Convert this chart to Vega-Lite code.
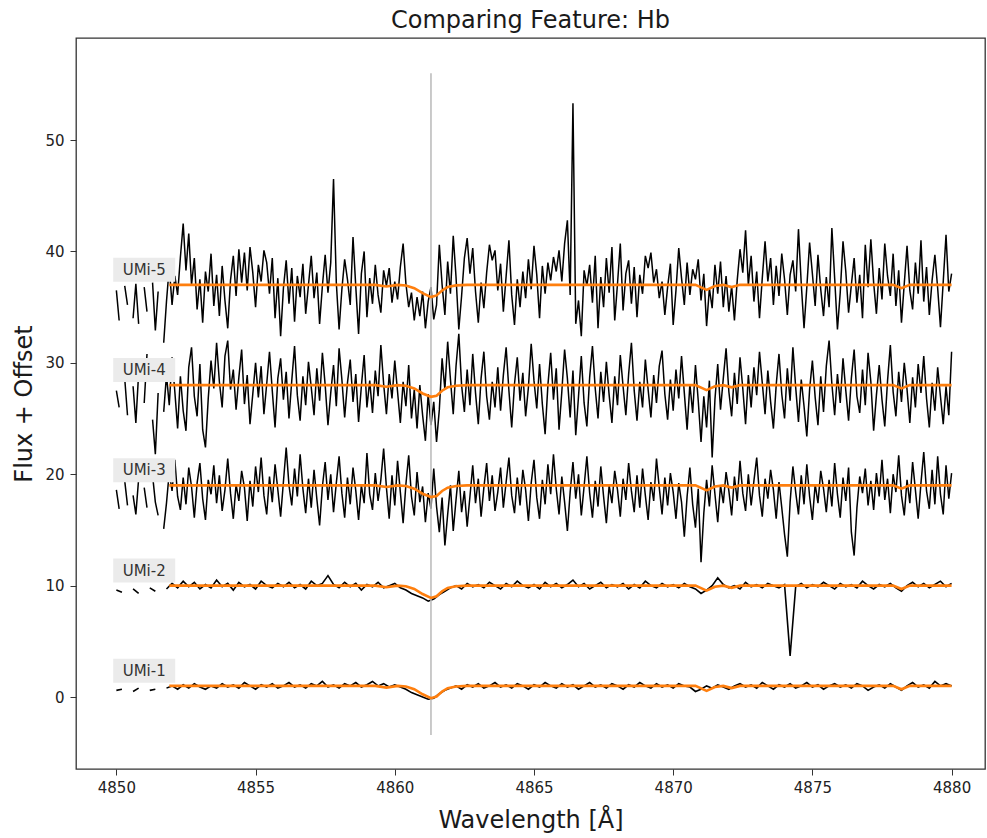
{
"$schema": "https://vega.github.io/schema/vega-lite/v6.json",
"width": 909, "height": 731,
"autosize": {"type": "none"},
"padding": {"left": 76, "top": 38, "right": 2, "bottom": 69},
"background": "white",
"title": {"text": "Comparing Feature: Hb", "fontSize": 24, "font": "DejaVu Sans", "fontWeight": "normal", "color": "#1a1a1a", "offset": 5, "anchor": "middle"},
"config": {
  "view": {"stroke": "#333333", "strokeWidth": 1.3},
  "axis": {"grid": false, "domain": false, "tickColor": "#333333", "labelColor": "#222222", "titleColor": "#1a1a1a", "labelFont": "DejaVu Sans", "titleFont": "DejaVu Sans", "labelFontSize": 15, "titleFontSize": 24, "titleFontWeight": "normal", "tickSize": 6}
},
"datasets": {
"noisy": [
{"w":4850.0,"s3":18.6,"s4":27.5,"s5":36.5},
{"w":4850.1,"s3":16.9,"s4":26.0,"s5":33.8},
{"w":4850.2,"s3":null,"s4":null,"s5":null},
{"w":4850.3,"s3":19.4,"s4":28.6,"s5":36.9},
{"w":4850.4,"s3":17.2,"s4":25.3,"s5":35.2},
{"w":4850.5,"s3":null,"s4":null,"s5":null},
{"w":4850.6,"s3":18.1,"s4":27.9,"s5":34.0},
{"w":4850.7,"s3":16.4,"s4":24.6,"s5":37.1},
{"w":4850.8,"s3":19.6,"s4":29.1,"s5":33.5},
{"w":4850.9,"s3":null,"s4":null,"s5":null},
{"w":4851.0,"s3":18.8,"s4":26.4,"s5":36.8},
{"w":4851.1,"s3":17.0,"s4":30.8,"s5":34.6},
{"w":4851.2,"s3":null,"s4":null,"s5":null},
{"w":4851.3,"s3":19.9,"s4":24.9,"s5":37.2},
{"w":4851.4,"s3":17.5,"s4":21.8,"s5":32.9},
{"w":4851.5,"s3":16.3,"s4":27.3,"s5":36.4},
{"w":4851.6,"s3":null,"s4":null,"s5":null},
{"w":4851.7,"s3":15.1,"s4":25.6,"s5":31.8},
{"w":4851.8,"s3":17.4,"s4":28.9,"s5":35.5},
{"w":4851.9,"s3":20.2,"s4":26.2,"s5":38.6},
{"w":4852.0,"s3":18.5,"s4":30.5,"s5":35.2},
{"w":4852.1,"s3":21.3,"s4":27.4,"s5":37.8},
{"w":4852.2,"s3":18.0,"s4":24.1,"s5":36.1},
{"w":4852.3,"s3":16.8,"s4":28.8,"s5":39.5},
{"w":4852.4,"s3":19.7,"s4":25.7,"s5":42.5},
{"w":4852.5,"s3":17.3,"s4":23.9,"s5":38.3},
{"w":4852.6,"s3":20.6,"s4":29.6,"s5":41.6},
{"w":4852.7,"s3":18.9,"s4":31.4,"s5":37.0},
{"w":4852.8,"s3":16.1,"s4":27.0,"s5":39.4},
{"w":4852.9,"s3":19.2,"s4":25.2,"s5":34.8},
{"w":4853.0,"s3":21.0,"s4":29.9,"s5":37.5},
{"w":4853.1,"s3":17.8,"s4":24.0,"s5":33.6},
{"w":4853.2,"s3":15.9,"s4":22.4,"s5":38.2},
{"w":4853.3,"s3":19.5,"s4":26.8,"s5":36.4},
{"w":4853.4,"s3":18.2,"s4":30.2,"s5":39.8},
{"w":4853.5,"s3":20.8,"s4":27.7,"s5":35.1},
{"w":4853.6,"s3":17.4,"s4":31.8,"s5":37.9},
{"w":4853.7,"s3":19.9,"s4":28.3,"s5":34.2},
{"w":4853.8,"s3":16.7,"s4":26.0,"s5":38.7},
{"w":4853.9,"s3":18.6,"s4":30.6,"s5":35.6},
{"w":4854.0,"s3":21.4,"s4":32.0,"s5":33.1},
{"w":4854.1,"s3":18.3,"s4":27.6,"s5":37.4},
{"w":4854.2,"s3":16.0,"s4":29.4,"s5":39.6},
{"w":4854.3,"s3":19.1,"s4":25.8,"s5":36.0},
{"w":4854.4,"s3":17.6,"s4":28.7,"s5":40.2},
{"w":4854.5,"s3":20.3,"s4":31.2,"s5":37.2},
{"w":4854.6,"s3":18.8,"s4":26.3,"s5":39.9},
{"w":4854.7,"s3":15.8,"s4":28.9,"s5":36.5},
{"w":4854.8,"s3":19.4,"s4":24.5,"s5":40.4},
{"w":4854.9,"s3":17.1,"s4":27.2,"s5":38.1},
{"w":4855.0,"s3":20.7,"s4":30.0,"s5":35.0},
{"w":4855.1,"s3":18.4,"s4":26.9,"s5":38.8},
{"w":4855.2,"s3":21.5,"s4":29.7,"s5":37.3},
{"w":4855.3,"s3":18.1,"s4":25.4,"s5":40.1},
{"w":4855.4,"s3":16.4,"s4":28.1,"s5":39.0},
{"w":4855.5,"s3":19.8,"s4":31.0,"s5":36.2},
{"w":4855.6,"s3":17.5,"s4":27.5,"s5":39.4},
{"w":4855.7,"s3":20.9,"s4":24.2,"s5":34.0},
{"w":4855.8,"s3":18.6,"s4":28.6,"s5":37.6},
{"w":4855.9,"s3":16.2,"s4":30.4,"s5":32.4},
{"w":4856.0,"s3":19.3,"s4":26.7,"s5":36.7},
{"w":4856.1,"s3":22.4,"s4":29.2,"s5":39.2},
{"w":4856.2,"s3":19.0,"s4":25.0,"s5":35.3},
{"w":4856.3,"s3":17.2,"s4":28.4,"s5":38.5},
{"w":4856.4,"s3":20.5,"s4":31.5,"s5":33.7},
{"w":4856.5,"s3":18.0,"s4":27.1,"s5":37.8},
{"w":4856.6,"s3":21.8,"s4":24.8,"s5":35.9},
{"w":4856.7,"s3":18.7,"s4":28.8,"s5":38.9},
{"w":4856.8,"s3":16.5,"s4":26.2,"s5":34.4},
{"w":4856.9,"s3":19.6,"s4":30.1,"s5":37.0},
{"w":4857.0,"s3":17.0,"s4":27.8,"s5":39.6},
{"w":4857.1,"s3":20.4,"s4":25.3,"s5":35.8},
{"w":4857.2,"s3":17.8,"s4":29.5,"s5":38.1},
{"w":4857.3,"s3":15.4,"s4":26.6,"s5":33.5},
{"w":4857.4,"s3":18.9,"s4":30.9,"s5":36.9},
{"w":4857.5,"s3":21.1,"s4":28.0,"s5":39.7},
{"w":4857.6,"s3":17.7,"s4":24.4,"s5":36.3},
{"w":4857.7,"s3":20.0,"s4":27.3,"s5":39.0},
{"w":4857.8,"s3":16.6,"s4":29.8,"s5":46.5},
{"w":4857.9,"s3":19.2,"s4":26.1,"s5":37.2},
{"w":4858.0,"s3":21.6,"s4":31.3,"s5":33.0},
{"w":4858.1,"s3":18.3,"s4":28.5,"s5":36.6},
{"w":4858.2,"s3":16.1,"s4":25.1,"s5":39.3},
{"w":4858.3,"s3":19.7,"s4":28.2,"s5":37.5},
{"w":4858.4,"s3":17.3,"s4":30.3,"s5":35.2},
{"w":4858.5,"s3":20.6,"s4":26.5,"s5":41.3},
{"w":4858.6,"s3":18.5,"s4":29.0,"s5":36.8},
{"w":4858.7,"s3":15.9,"s4":24.7,"s5":32.6},
{"w":4858.8,"s3":19.0,"s4":27.9,"s5":38.0},
{"w":4858.9,"s3":17.4,"s4":30.7,"s5":40.0},
{"w":4859.0,"s3":21.9,"s4":26.0,"s5":34.1},
{"w":4859.1,"s3":18.2,"s4":28.4,"s5":37.6},
{"w":4859.2,"s3":16.8,"s4":25.5,"s5":35.3},
{"w":4859.3,"s3":20.1,"s4":29.3,"s5":38.8},
{"w":4859.4,"s3":17.6,"s4":27.0,"s5":36.1},
{"w":4859.5,"s3":19.5,"s4":31.6,"s5":34.5},
{"w":4859.6,"s3":22.3,"s4":28.1,"s5":38.3},
{"w":4859.7,"s3":18.8,"s4":25.4,"s5":36.9},
{"w":4859.8,"s3":16.0,"s4":29.0,"s5":38.5},
{"w":4859.9,"s3":19.9,"s4":26.8,"s5":35.4},
{"w":4860.0,"s3":17.2,"s4":30.2,"s5":37.3},
{"w":4860.1,"s3":21.2,"s4":27.4,"s5":35.7},
{"w":4860.2,"s3":18.4,"s4":24.6,"s5":38.6},
{"w":4860.3,"s3":15.6,"s4":28.3,"s5":40.7},
{"w":4860.4,"s3":19.1,"s4":26.1,"s5":37.1},
{"w":4860.5,"s3":21.7,"s4":29.8,"s5":35.0},
{"w":4860.6,"s3":18.0,"s4":25.0,"s5":36.3},
{"w":4860.7,"s3":16.3,"s4":27.6,"s5":33.8},
{"w":4860.8,"s3":20.2,"s4":24.1,"s5":35.9},
{"w":4860.9,"s3":17.5,"s4":28.0,"s5":34.2},
{"w":4861.0,"s3":18.9,"s4":25.3,"s5":36.4},
{"w":4861.1,"s3":15.7,"s4":23.0,"s5":33.1},
{"w":4861.2,"s3":18.3,"s4":27.2,"s5":35.5},
{"w":4861.3,"s3":16.9,"s4":24.4,"s5":36.8},
{"w":4861.4,"s3":20.5,"s4":26.5,"s5":33.9},
{"w":4861.5,"s3":17.1,"s4":22.9,"s5":35.2},
{"w":4861.6,"s3":14.8,"s4":25.8,"s5":40.6},
{"w":4861.7,"s3":17.9,"s4":30.4,"s5":37.0},
{"w":4861.8,"s3":13.6,"s4":27.6,"s5":34.3},
{"w":4861.9,"s3":16.4,"s4":31.9,"s5":39.1},
{"w":4862.0,"s3":19.0,"s4":28.5,"s5":36.2},
{"w":4862.1,"s3":14.9,"s4":25.4,"s5":41.4},
{"w":4862.2,"s3":17.7,"s4":29.7,"s5":37.7},
{"w":4862.3,"s3":20.3,"s4":32.6,"s5":33.0},
{"w":4862.4,"s3":16.6,"s4":28.0,"s5":36.0},
{"w":4862.5,"s3":18.5,"s4":25.6,"s5":39.4},
{"w":4862.6,"s3":15.3,"s4":29.4,"s5":41.2},
{"w":4862.7,"s3":18.0,"s4":26.2,"s5":38.0},
{"w":4862.8,"s3":20.8,"s4":30.8,"s5":40.3},
{"w":4862.9,"s3":17.4,"s4":27.3,"s5":36.4},
{"w":4863.0,"s3":19.6,"s4":24.5,"s5":33.6},
{"w":4863.1,"s3":16.2,"s4":28.6,"s5":37.2},
{"w":4863.2,"s3":18.8,"s4":31.0,"s5":34.9},
{"w":4863.3,"s3":21.0,"s4":27.0,"s5":38.1},
{"w":4863.4,"s3":17.6,"s4":24.9,"s5":40.6},
{"w":4863.5,"s3":19.9,"s4":28.3,"s5":39.2},
{"w":4863.6,"s3":16.7,"s4":26.0,"s5":40.1},
{"w":4863.7,"s3":18.4,"s4":29.6,"s5":36.5},
{"w":4863.8,"s3":20.6,"s4":25.7,"s5":38.9},
{"w":4863.9,"s3":17.0,"s4":28.9,"s5":34.6},
{"w":4864.0,"s3":19.3,"s4":31.4,"s5":37.8},
{"w":4864.1,"s3":21.5,"s4":27.5,"s5":41.0},
{"w":4864.2,"s3":18.1,"s4":24.2,"s5":36.1},
{"w":4864.3,"s3":16.5,"s4":28.1,"s5":33.4},
{"w":4864.4,"s3":19.7,"s4":30.5,"s5":37.5},
{"w":4864.5,"s3":17.2,"s4":26.6,"s5":35.0},
{"w":4864.6,"s3":20.4,"s4":29.1,"s5":38.2},
{"w":4864.7,"s3":18.6,"s4":25.2,"s5":35.8},
{"w":4864.8,"s3":15.8,"s4":27.8,"s5":39.3},
{"w":4864.9,"s3":19.2,"s4":31.7,"s5":36.6},
{"w":4865.0,"s3":21.3,"s4":28.4,"s5":40.5},
{"w":4865.1,"s3":17.9,"s4":25.9,"s5":37.9},
{"w":4865.2,"s3":16.0,"s4":29.9,"s5":34.0},
{"w":4865.3,"s3":19.5,"s4":26.3,"s5":38.7},
{"w":4865.4,"s3":17.3,"s4":23.6,"s5":36.2},
{"w":4865.5,"s3":20.9,"s4":28.0,"s5":39.0},
{"w":4865.6,"s3":18.2,"s4":30.9,"s5":37.4},
{"w":4865.7,"s3":21.8,"s4":26.7,"s5":39.5},
{"w":4865.8,"s3":18.7,"s4":29.5,"s5":38.2},
{"w":4865.9,"s3":16.4,"s4":24.0,"s5":40.1},
{"w":4866.0,"s3":19.8,"s4":27.4,"s5":37.3},
{"w":4866.1,"s3":17.5,"s4":31.2,"s5":40.7},
{"w":4866.2,"s3":14.9,"s4":28.6,"s5":42.8},
{"w":4866.3,"s3":18.4,"s4":25.1,"s5":36.1},
{"w":4866.4,"s3":21.1,"s4":29.3,"s5":53.3},
{"w":4866.5,"s3":17.8,"s4":23.5,"s5":33.5},
{"w":4866.6,"s3":20.0,"s4":27.0,"s5":35.6},
{"w":4866.7,"s3":16.3,"s4":30.6,"s5":32.4},
{"w":4866.8,"s3":18.9,"s4":26.4,"s5":38.3},
{"w":4866.9,"s3":21.6,"s4":24.3,"s5":36.9},
{"w":4867.0,"s3":18.3,"s4":28.7,"s5":38.8},
{"w":4867.1,"s3":16.1,"s4":31.5,"s5":35.4},
{"w":4867.2,"s3":19.4,"s4":27.7,"s5":39.6},
{"w":4867.3,"s3":17.1,"s4":25.0,"s5":33.1},
{"w":4867.4,"s3":20.7,"s4":29.2,"s5":37.7},
{"w":4867.5,"s3":18.0,"s4":26.5,"s5":35.0},
{"w":4867.6,"s3":15.6,"s4":30.1,"s5":39.4},
{"w":4867.7,"s3":19.0,"s4":27.1,"s5":36.3},
{"w":4867.8,"s3":17.4,"s4":24.6,"s5":40.4},
{"w":4867.9,"s3":20.3,"s4":28.8,"s5":33.8},
{"w":4868.0,"s3":18.6,"s4":26.2,"s5":37.1},
{"w":4868.1,"s3":16.2,"s4":30.7,"s5":40.7},
{"w":4868.2,"s3":19.6,"s4":27.9,"s5":34.7},
{"w":4868.3,"s3":17.7,"s4":25.3,"s5":38.0},
{"w":4868.4,"s3":21.0,"s4":29.0,"s5":39.2},
{"w":4868.5,"s3":18.5,"s4":31.8,"s5":35.3},
{"w":4868.6,"s3":16.6,"s4":27.5,"s5":38.6},
{"w":4868.7,"s3":19.9,"s4":24.8,"s5":34.1},
{"w":4868.8,"s3":17.0,"s4":28.3,"s5":37.9},
{"w":4868.9,"s3":20.5,"s4":26.0,"s5":36.2},
{"w":4869.0,"s3":18.1,"s4":30.3,"s5":39.6},
{"w":4869.1,"s3":15.9,"s4":27.6,"s5":38.5},
{"w":4869.2,"s3":19.3,"s4":25.1,"s5":39.9},
{"w":4869.3,"s3":17.6,"s4":28.9,"s5":37.2},
{"w":4869.4,"s3":21.4,"s4":26.4,"s5":38.4},
{"w":4869.5,"s3":18.8,"s4":29.7,"s5":35.8},
{"w":4869.6,"s3":16.4,"s4":31.1,"s5":37.3},
{"w":4869.7,"s3":19.7,"s4":27.2,"s5":34.3},
{"w":4869.8,"s3":17.2,"s4":24.9,"s5":36.8},
{"w":4869.9,"s3":20.1,"s4":28.5,"s5":38.9},
{"w":4870.0,"s3":18.4,"s4":25.7,"s5":33.4},
{"w":4870.1,"s3":16.0,"s4":29.4,"s5":36.5},
{"w":4870.2,"s3":19.2,"s4":26.8,"s5":40.3},
{"w":4870.3,"s3":17.5,"s4":30.6,"s5":37.6},
{"w":4870.4,"s3":14.4,"s4":27.3,"s5":35.2},
{"w":4870.5,"s3":18.0,"s4":24.0,"s5":39.0},
{"w":4870.6,"s3":20.6,"s4":28.1,"s5":36.1},
{"w":4870.7,"s3":17.3,"s4":25.5,"s5":38.4},
{"w":4870.8,"s3":15.2,"s4":29.8,"s5":37.5},
{"w":4870.9,"s3":18.7,"s4":26.6,"s5":39.3},
{"w":4871.0,"s3":12.1,"s4":22.9,"s5":35.6},
{"w":4871.1,"s3":16.5,"s4":27.0,"s5":38.0},
{"w":4871.2,"s3":19.5,"s4":24.2,"s5":33.3},
{"w":4871.3,"s3":17.1,"s4":28.4,"s5":36.7},
{"w":4871.4,"s3":20.8,"s4":21.5,"s5":34.9},
{"w":4871.5,"s3":18.2,"s4":26.7,"s5":38.8},
{"w":4871.6,"s3":15.7,"s4":29.9,"s5":36.2},
{"w":4871.7,"s3":19.0,"s4":25.8,"s5":39.1},
{"w":4871.8,"s3":17.4,"s4":28.6,"s5":35.0},
{"w":4871.9,"s3":20.2,"s4":31.3,"s5":37.8},
{"w":4872.0,"s3":18.5,"s4":27.4,"s5":34.6},
{"w":4872.1,"s3":16.3,"s4":25.2,"s5":36.9},
{"w":4872.2,"s3":19.8,"s4":29.1,"s5":33.8},
{"w":4872.3,"s3":17.6,"s4":26.3,"s5":37.4},
{"w":4872.4,"s3":21.2,"s4":30.5,"s5":40.2},
{"w":4872.5,"s3":18.3,"s4":27.7,"s5":38.1},
{"w":4872.6,"s3":16.7,"s4":24.5,"s5":41.9},
{"w":4872.7,"s3":20.0,"s4":28.9,"s5":37.0},
{"w":4872.8,"s3":17.2,"s4":26.0,"s5":39.6},
{"w":4872.9,"s3":19.4,"s4":29.6,"s5":35.5},
{"w":4873.0,"s3":21.5,"s4":27.1,"s5":38.2},
{"w":4873.1,"s3":18.1,"s4":31.0,"s5":34.0},
{"w":4873.2,"s3":16.2,"s4":28.2,"s5":37.6},
{"w":4873.3,"s3":19.6,"s4":25.4,"s5":40.9},
{"w":4873.4,"s3":17.8,"s4":29.3,"s5":37.3},
{"w":4873.5,"s3":20.4,"s4":26.5,"s5":39.4},
{"w":4873.6,"s3":18.6,"s4":24.1,"s5":35.2},
{"w":4873.7,"s3":16.0,"s4":28.0,"s5":38.7},
{"w":4873.8,"s3":19.3,"s4":30.8,"s5":36.0},
{"w":4873.9,"s3":17.0,"s4":27.2,"s5":39.8},
{"w":4874.0,"s3":14.6,"s4":25.0,"s5":37.5},
{"w":4874.1,"s3":12.6,"s4":29.5,"s5":34.3},
{"w":4874.2,"s3":17.5,"s4":26.6,"s5":37.9},
{"w":4874.3,"s3":20.7,"s4":31.4,"s5":39.2},
{"w":4874.4,"s3":18.4,"s4":27.8,"s5":36.4},
{"w":4874.5,"s3":16.4,"s4":24.7,"s5":42.0},
{"w":4874.6,"s3":19.9,"s4":28.5,"s5":37.1},
{"w":4874.7,"s3":17.3,"s4":26.1,"s5":33.1},
{"w":4874.8,"s3":20.9,"s4":23.4,"s5":36.8},
{"w":4874.9,"s3":18.0,"s4":27.6,"s5":40.8},
{"w":4875.0,"s3":15.9,"s4":30.2,"s5":38.0},
{"w":4875.1,"s3":19.1,"s4":26.9,"s5":35.1},
{"w":4875.2,"s3":17.4,"s4":24.4,"s5":39.7},
{"w":4875.3,"s3":20.3,"s4":28.8,"s5":36.6},
{"w":4875.4,"s3":18.7,"s4":25.6,"s5":34.2},
{"w":4875.5,"s3":16.6,"s4":29.7,"s5":37.7},
{"w":4875.6,"s3":19.5,"s4":32.0,"s5":35.0},
{"w":4875.7,"s3":17.1,"s4":28.1,"s5":42.1},
{"w":4875.8,"s3":21.0,"s4":25.3,"s5":37.6},
{"w":4875.9,"s3":18.2,"s4":29.0,"s5":33.0},
{"w":4876.0,"s3":16.1,"s4":26.4,"s5":36.3},
{"w":4876.1,"s3":19.7,"s4":30.4,"s5":40.9},
{"w":4876.2,"s3":17.6,"s4":27.5,"s5":38.2},
{"w":4876.3,"s3":20.6,"s4":24.8,"s5":34.5},
{"w":4876.4,"s3":14.8,"s4":28.6,"s5":37.0},
{"w":4876.5,"s3":12.7,"s4":31.2,"s5":39.4},
{"w":4876.6,"s3":17.0,"s4":27.0,"s5":35.4},
{"w":4876.7,"s3":19.8,"s4":25.5,"s5":37.9},
{"w":4876.8,"s3":18.3,"s4":29.4,"s5":34.0},
{"w":4876.9,"s3":20.5,"s4":26.2,"s5":40.6},
{"w":4877.0,"s3":17.2,"s4":30.9,"s5":36.8},
{"w":4877.1,"s3":19.4,"s4":28.3,"s5":41.1},
{"w":4877.2,"s3":16.8,"s4":23.9,"s5":37.2},
{"w":4877.3,"s3":20.1,"s4":27.1,"s5":34.4},
{"w":4877.4,"s3":18.0,"s4":29.8,"s5":38.5},
{"w":4877.5,"s3":21.3,"s4":26.7,"s5":35.7},
{"w":4877.6,"s3":17.7,"s4":24.3,"s5":40.7},
{"w":4877.7,"s3":19.6,"s4":28.4,"s5":37.8},
{"w":4877.8,"s3":16.5,"s4":31.6,"s5":36.0},
{"w":4877.9,"s3":20.0,"s4":27.4,"s5":39.8},
{"w":4878.0,"s3":18.4,"s4":25.2,"s5":35.1},
{"w":4878.1,"s3":21.7,"s4":29.2,"s5":38.3},
{"w":4878.2,"s3":18.1,"s4":26.5,"s5":33.6},
{"w":4878.3,"s3":16.3,"s4":30.0,"s5":37.1},
{"w":4878.4,"s3":19.5,"s4":27.6,"s5":40.5},
{"w":4878.5,"s3":17.4,"s4":24.6,"s5":36.5},
{"w":4878.6,"s3":21.1,"s4":28.7,"s5":34.8},
{"w":4878.7,"s3":18.6,"s4":26.0,"s5":39.0},
{"w":4878.8,"s3":16.0,"s4":29.9,"s5":36.2},
{"w":4878.9,"s3":19.2,"s4":27.3,"s5":41.0},
{"w":4879.0,"s3":22.0,"s4":30.6,"s5":35.5},
{"w":4879.1,"s3":18.5,"s4":26.8,"s5":38.6},
{"w":4879.2,"s3":16.9,"s4":24.2,"s5":34.3},
{"w":4879.3,"s3":20.4,"s4":28.2,"s5":37.4},
{"w":4879.4,"s3":17.3,"s4":25.7,"s5":39.7},
{"w":4879.5,"s3":21.6,"s4":29.6,"s5":36.7},
{"w":4879.6,"s3":18.2,"s4":27.0,"s5":33.2},
{"w":4879.7,"s3":16.4,"s4":24.5,"s5":37.3},
{"w":4879.8,"s3":20.8,"s4":27.9,"s5":41.5},
{"w":4879.9,"s3":17.8,"s4":25.3,"s5":36.4},
{"w":4880.0,"s3":20.1,"s4":31.0,"s5":38.0}
],
"quiet": [
{"w":4850.0,"s1":0.6,"s2":9.6},
{"w":4850.2,"s1":0.7,"s2":9.4},
{"w":4850.4,"s1":null,"s2":null},
{"w":4850.6,"s1":0.5,"s2":9.7},
{"w":4850.8,"s1":0.8,"s2":9.3},
{"w":4851.0,"s1":null,"s2":null},
{"w":4851.2,"s1":0.6,"s2":9.8},
{"w":4851.4,"s1":0.7,"s2":9.5},
{"w":4851.6,"s1":null,"s2":null},
{"w":4851.8,"s1":0.8,"s2":9.7},
{"w":4852.0,"s1":1.0,"s2":10.2},
{"w":4852.2,"s1":0.7,"s2":9.8},
{"w":4852.4,"s1":1.1,"s2":10.4},
{"w":4852.6,"s1":0.8,"s2":9.9},
{"w":4852.8,"s1":1.2,"s2":10.3},
{"w":4853.0,"s1":0.9,"s2":9.7},
{"w":4853.2,"s1":0.7,"s2":10.1},
{"w":4853.4,"s1":1.0,"s2":9.8},
{"w":4853.6,"s1":0.8,"s2":10.5},
{"w":4853.8,"s1":1.2,"s2":9.9},
{"w":4854.0,"s1":0.9,"s2":10.2},
{"w":4854.2,"s1":1.1,"s2":9.6},
{"w":4854.4,"s1":0.8,"s2":10.3},
{"w":4854.6,"s1":1.3,"s2":9.9},
{"w":4854.8,"s1":1.0,"s2":10.1},
{"w":4855.0,"s1":0.7,"s2":9.7},
{"w":4855.2,"s1":1.1,"s2":10.4},
{"w":4855.4,"s1":0.9,"s2":10.0},
{"w":4855.6,"s1":1.2,"s2":9.8},
{"w":4855.8,"s1":0.8,"s2":10.2},
{"w":4856.0,"s1":1.0,"s2":9.9},
{"w":4856.2,"s1":1.3,"s2":10.3},
{"w":4856.4,"s1":0.9,"s2":9.8},
{"w":4856.6,"s1":1.1,"s2":10.1},
{"w":4856.8,"s1":0.8,"s2":9.7},
{"w":4857.0,"s1":1.2,"s2":10.4},
{"w":4857.2,"s1":1.0,"s2":10.0},
{"w":4857.4,"s1":1.4,"s2":10.2},
{"w":4857.6,"s1":0.9,"s2":10.9},
{"w":4857.8,"s1":1.1,"s2":10.1},
{"w":4858.0,"s1":0.8,"s2":9.8},
{"w":4858.2,"s1":1.2,"s2":10.3},
{"w":4858.4,"s1":1.0,"s2":9.9},
{"w":4858.6,"s1":1.3,"s2":10.2},
{"w":4858.8,"s1":0.9,"s2":9.6},
{"w":4859.0,"s1":1.1,"s2":10.1},
{"w":4859.2,"s1":1.4,"s2":9.9},
{"w":4859.4,"s1":1.0,"s2":10.3},
{"w":4859.6,"s1":1.2,"s2":9.8},
{"w":4859.8,"s1":0.9,"s2":10.0},
{"w":4860.0,"s1":1.1,"s2":10.2},
{"w":4860.2,"s1":0.9,"s2":9.8},
{"w":4860.4,"s1":0.7,"s2":9.6},
{"w":4860.6,"s1":0.4,"s2":9.3},
{"w":4860.8,"s1":0.2,"s2":9.1},
{"w":4861.0,"s1":0.0,"s2":8.9},
{"w":4861.2,"s1":-0.2,"s2":8.6},
{"w":4861.4,"s1":-0.1,"s2":8.8},
{"w":4861.6,"s1":0.3,"s2":9.2},
{"w":4861.8,"s1":0.6,"s2":9.5},
{"w":4862.0,"s1":0.8,"s2":9.8},
{"w":4862.2,"s1":1.0,"s2":10.0},
{"w":4862.4,"s1":0.7,"s2":9.7},
{"w":4862.6,"s1":1.1,"s2":10.2},
{"w":4862.8,"s1":0.9,"s2":9.9},
{"w":4863.0,"s1":1.2,"s2":10.1},
{"w":4863.2,"s1":0.8,"s2":9.8},
{"w":4863.4,"s1":1.0,"s2":10.3},
{"w":4863.6,"s1":1.3,"s2":10.0},
{"w":4863.8,"s1":0.9,"s2":9.7},
{"w":4864.0,"s1":1.1,"s2":10.2},
{"w":4864.2,"s1":0.8,"s2":9.9},
{"w":4864.4,"s1":1.2,"s2":10.4},
{"w":4864.6,"s1":1.0,"s2":10.0},
{"w":4864.8,"s1":0.7,"s2":9.8},
{"w":4865.0,"s1":1.1,"s2":10.1},
{"w":4865.2,"s1":0.9,"s2":9.7},
{"w":4865.4,"s1":1.3,"s2":10.3},
{"w":4865.6,"s1":1.0,"s2":9.9},
{"w":4865.8,"s1":0.8,"s2":10.2},
{"w":4866.0,"s1":1.2,"s2":9.8},
{"w":4866.2,"s1":0.9,"s2":10.1},
{"w":4866.4,"s1":1.1,"s2":10.5},
{"w":4866.6,"s1":0.7,"s2":9.9},
{"w":4866.8,"s1":1.0,"s2":10.2},
{"w":4867.0,"s1":1.3,"s2":9.7},
{"w":4867.2,"s1":0.9,"s2":10.0},
{"w":4867.4,"s1":1.1,"s2":10.3},
{"w":4867.6,"s1":0.8,"s2":9.8},
{"w":4867.8,"s1":1.2,"s2":10.1},
{"w":4868.0,"s1":1.0,"s2":9.9},
{"w":4868.2,"s1":0.7,"s2":10.2},
{"w":4868.4,"s1":1.1,"s2":9.7},
{"w":4868.6,"s1":0.9,"s2":10.1},
{"w":4868.8,"s1":1.3,"s2":9.8},
{"w":4869.0,"s1":1.0,"s2":10.4},
{"w":4869.2,"s1":0.8,"s2":10.0},
{"w":4869.4,"s1":1.2,"s2":9.8},
{"w":4869.6,"s1":0.9,"s2":10.2},
{"w":4869.8,"s1":1.1,"s2":9.9},
{"w":4870.0,"s1":0.8,"s2":10.1},
{"w":4870.2,"s1":1.2,"s2":9.8},
{"w":4870.4,"s1":1.0,"s2":10.2},
{"w":4870.6,"s1":0.9,"s2":9.9},
{"w":4870.8,"s1":0.5,"s2":9.7},
{"w":4871.0,"s1":0.7,"s2":9.3},
{"w":4871.2,"s1":1.0,"s2":9.6},
{"w":4871.4,"s1":0.8,"s2":10.0},
{"w":4871.6,"s1":1.1,"s2":10.7},
{"w":4871.8,"s1":0.9,"s2":10.1},
{"w":4872.0,"s1":0.7,"s2":9.8},
{"w":4872.2,"s1":1.0,"s2":10.0},
{"w":4872.4,"s1":1.2,"s2":9.7},
{"w":4872.6,"s1":0.9,"s2":10.3},
{"w":4872.8,"s1":1.1,"s2":9.9},
{"w":4873.0,"s1":0.8,"s2":10.1},
{"w":4873.2,"s1":1.3,"s2":9.8},
{"w":4873.4,"s1":1.0,"s2":10.2},
{"w":4873.6,"s1":0.7,"s2":10.0},
{"w":4873.8,"s1":1.1,"s2":9.8},
{"w":4874.0,"s1":0.9,"s2":10.1},
{"w":4874.2,"s1":1.2,"s2":3.7},
{"w":4874.4,"s1":0.8,"s2":9.9},
{"w":4874.6,"s1":1.0,"s2":10.2},
{"w":4874.8,"s1":1.3,"s2":9.8},
{"w":4875.0,"s1":0.9,"s2":10.1},
{"w":4875.2,"s1":1.1,"s2":9.9},
{"w":4875.4,"s1":0.7,"s2":10.3},
{"w":4875.6,"s1":1.0,"s2":10.0},
{"w":4875.8,"s1":1.2,"s2":9.7},
{"w":4876.0,"s1":0.9,"s2":10.2},
{"w":4876.2,"s1":1.1,"s2":9.9},
{"w":4876.4,"s1":0.8,"s2":10.1},
{"w":4876.6,"s1":1.2,"s2":9.8},
{"w":4876.8,"s1":1.0,"s2":10.4},
{"w":4877.0,"s1":0.6,"s2":10.0},
{"w":4877.2,"s1":0.9,"s2":9.7},
{"w":4877.4,"s1":1.1,"s2":10.1},
{"w":4877.6,"s1":0.8,"s2":9.9},
{"w":4877.8,"s1":1.2,"s2":10.2},
{"w":4878.0,"s1":0.9,"s2":9.8},
{"w":4878.2,"s1":0.6,"s2":9.5},
{"w":4878.4,"s1":1.0,"s2":10.0},
{"w":4878.6,"s1":1.3,"s2":10.3},
{"w":4878.8,"s1":0.9,"s2":9.9},
{"w":4879.0,"s1":1.1,"s2":10.2},
{"w":4879.2,"s1":0.8,"s2":9.8},
{"w":4879.4,"s1":1.4,"s2":10.1},
{"w":4879.6,"s1":1.0,"s2":10.4},
{"w":4879.8,"s1":1.2,"s2":9.9},
{"w":4880.0,"s1":1.0,"s2":10.2}
],
"model": [
{"w":4851.9,"s1":1.0,"s2":10.0,"s3":19.0,"s4":28.0,"s5":37.0},
{"w":4859.3,"s1":1.0,"s2":10.0,"s3":19.0,"s4":28.0,"s5":37.0},
{"w":4859.7,"s1":0.85,"s2":9.85,"s3":18.85,"s4":27.85,"s5":36.85},
{"w":4860.1,"s1":1.0,"s2":10.0,"s3":19.0,"s4":28.0,"s5":37.0},
{"w":4860.4,"s1":0.95,"s2":9.95,"s3":18.95,"s4":27.95,"s5":36.95},
{"w":4860.7,"s1":0.7,"s2":9.7,"s3":18.7,"s4":27.7,"s5":36.7},
{"w":4861.0,"s1":0.25,"s2":9.25,"s3":18.25,"s4":27.25,"s5":36.25},
{"w":4861.3,"s1":-0.1,"s2":8.9,"s3":17.95,"s4":26.95,"s5":35.9},
{"w":4861.5,"s1":0.05,"s2":9.05,"s3":18.05,"s4":27.05,"s5":36.05},
{"w":4861.7,"s1":0.5,"s2":9.5,"s3":18.5,"s4":27.5,"s5":36.5},
{"w":4861.9,"s1":0.8,"s2":9.8,"s3":18.8,"s4":27.8,"s5":36.8},
{"w":4862.2,"s1":0.95,"s2":9.95,"s3":18.95,"s4":27.95,"s5":36.95},
{"w":4862.6,"s1":1.0,"s2":10.0,"s3":19.0,"s4":28.0,"s5":37.0},
{"w":4870.8,"s1":1.0,"s2":10.0,"s3":19.0,"s4":28.0,"s5":37.0},
{"w":4871.2,"s1":0.55,"s2":9.55,"s3":18.55,"s4":27.55,"s5":36.55},
{"w":4871.5,"s1":0.9,"s2":9.9,"s3":18.9,"s4":27.9,"s5":36.9},
{"w":4871.8,"s1":1.0,"s2":10.0,"s3":19.0,"s4":28.0,"s5":37.0},
{"w":4872.1,"s1":0.8,"s2":9.8,"s3":18.8,"s4":27.8,"s5":36.8},
{"w":4872.4,"s1":1.0,"s2":10.0,"s3":19.0,"s4":28.0,"s5":37.0},
{"w":4877.9,"s1":1.0,"s2":10.0,"s3":19.0,"s4":28.0,"s5":37.0},
{"w":4878.2,"s1":0.7,"s2":9.7,"s3":18.7,"s4":27.7,"s5":36.7},
{"w":4878.5,"s1":1.0,"s2":10.0,"s3":19.0,"s4":28.0,"s5":37.0},
{"w":4880.0,"s1":1.0,"s2":10.0,"s3":19.0,"s4":28.0,"s5":37.0}
],
"marker": [
{"w":4861.3,"v":-3.4,"v2":56.0}
],
"labels": [
{"name":"UMi-1","w":4851.0,"v":2.35},
{"name":"UMi-2","w":4851.0,"v":11.35},
{"name":"UMi-3","w":4851.0,"v":20.35},
{"name":"UMi-4","w":4851.0,"v":29.35},
{"name":"UMi-5","w":4851.0,"v":38.35}
]
},
"encoding": {
  "x": {"field": "w", "type": "quantitative", "scale": {"domain": [4848.55, 4881.2], "nice": false, "zero": false},
        "axis": {"title": "Wavelength [Å]", "values": [4850, 4855, 4860, 4865, 4870, 4875, 4880], "format": "d", "labelPadding": 5, "titlePadding": 13}},
  "y": {"field": "v", "type": "quantitative", "scale": {"domain": [-6.46, 59.16], "nice": false, "zero": false},
        "axis": {"title": "Flux + Offset", "values": [0, 10, 20, 30, 40, 50], "labelPadding": 6, "titlePadding": 8}}
},
"layer": [
  {
    "data": {"name": "noisy"},
    "transform": [{"fold": ["s3", "s4", "s5"], "as": ["series", "v"]}],
    "mark": {"type": "line", "color": "#000000", "strokeWidth": 1.5},
    "encoding": {"detail": {"field": "series"}}
  },
  {
    "data": {"name": "quiet"},
    "transform": [{"fold": ["s1", "s2"], "as": ["series", "v"]}],
    "mark": {"type": "line", "color": "#000000", "strokeWidth": 1.6},
    "encoding": {"detail": {"field": "series"}}
  },
  {
    "data": {"name": "marker"},
    "mark": {"type": "rule", "color": "#bdbdbd", "strokeWidth": 1.6},
    "encoding": {"y2": {"field": "v2"}}
  },
  {
    "data": {"name": "model"},
    "transform": [{"fold": ["s1", "s2", "s3", "s4", "s5"], "as": ["series", "v"]}],
    "mark": {"type": "line", "color": "#ff7f0e", "strokeWidth": 2.6},
    "encoding": {"detail": {"field": "series"}}
  },
  {
    "data": {"name": "labels"},
    "mark": {"type": "point", "shape": "M-1,-0.387H1V0.387H-1Z", "size": 3844, "filled": true, "color": "#ebebeb", "opacity": 1, "strokeWidth": 0},
    "encoding": {}
  },
  {
    "data": {"name": "labels"},
    "mark": {"type": "text", "font": "DejaVu Sans", "fontSize": 15, "color": "#333333", "align": "center", "baseline": "middle"},
    "encoding": {"text": {"field": "name"}}
  }
]
}
